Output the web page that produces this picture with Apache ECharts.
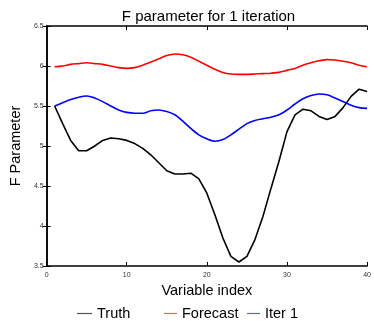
<!DOCTYPE html>
<html>
<head>
<meta charset="utf-8">
<script src="https://cdn.jsdelivr.net/npm/echarts@6/dist/echarts.min.js"></script>
<style>
  html, body { margin: 0; padding: 0; background: #fff; }
  #chart { width: 374px; height: 321px; }
</style>
</head>
<body>
<div id="chart"></div>
<script>
  // variable index 1..40
  var xIndex = [];
  for (var i = 1; i <= 40; i++) xIndex.push(i);

  var truth = [5.50, 5.28, 5.07, 4.94, 4.94, 5.00, 5.07, 5.10, 5.09, 5.07,
               5.03, 4.97, 4.89, 4.79, 4.69, 4.65, 4.65, 4.66, 4.59, 4.41,
               4.14, 3.85, 3.62, 3.55, 3.62, 3.83, 4.12, 4.47, 4.81, 5.18,
               5.39, 5.46, 5.44, 5.37, 5.33, 5.37, 5.48, 5.62, 5.71, 5.68];
  var forecast = [5.99, 6.00, 6.02, 6.03, 6.04, 6.03, 6.02, 6.00, 5.98, 5.97,
                  5.98, 6.01, 6.05, 6.09, 6.13, 6.15, 6.14, 6.11, 6.06, 6.01,
                  5.96, 5.92, 5.90, 5.895, 5.895, 5.90, 5.905, 5.91, 5.92, 5.945,
                  5.97, 6.01, 6.04, 6.065, 6.08, 6.075, 6.06, 6.04, 6.01, 5.99];
  var iter1 = [5.50, 5.54, 5.58, 5.61, 5.625, 5.60, 5.555, 5.50, 5.45, 5.42,
               5.41, 5.41, 5.44, 5.45, 5.43, 5.39, 5.31, 5.22, 5.14, 5.09,
               5.06, 5.08, 5.14, 5.21, 5.28, 5.32, 5.34, 5.36, 5.39, 5.45,
               5.525, 5.59, 5.63, 5.65, 5.64, 5.60, 5.555, 5.51, 5.48, 5.47];

  function pairs(ys) {
      return xIndex.map(function (x, k) { return [x, ys[k]]; });
  }

  var font = 'Liberation Sans';
  var tickText = { fontFamily: font, fontSize: 7, color: '#333' };

  function legendAt(name, left, width, color) {
      return {
          data: [{ name: name, itemStyle: { color: color } }],
          left: left, top: 306, padding: 0, icon: 'rect', itemWidth: width, itemHeight: 1.2,
          textStyle: { fontFamily: font, fontSize: 14.5, color: '#000' }
      };
  }

  var dom = document.getElementById('chart');
  var myChart = echarts.init(dom);
  var option = {
      animation: false,
      title: {
          text: 'F parameter for 1 iteration',
          left: 203.5,
          textAlign: 'center',
          top: 4,
          textStyle: { fontFamily: font, fontSize: 15, fontWeight: 'normal', color: '#000' }
      },
      legend: [
          legendAt('Truth', 77, 15, '#555'),
          legendAt('Forecast', 164, 13, '#ff5a5a'),
          legendAt('Iter 1', 247, 13, '#5a5aff')
      ],
      grid: { left: 38, right: 5, top: 26, bottom: 55 },
      xAxis: [
          {
              type: 'value', min: 0, max: 40, interval: 10,
              name: 'Variable index', nameLocation: 'middle', nameGap: 15,
              nameTextStyle: { fontFamily: font, fontSize: 14.5, color: '#000' },
              axisLine: { lineStyle: { color: '#000', width: 1.5 } },
              axisTick: { inside: true, length: 4, lineStyle: { color: '#000' } },
              axisLabel: Object.assign({ margin: 6 }, tickText),
              splitLine: { show: false }
          },
          {
              type: 'value', min: 0, max: 40, interval: 10, position: 'top',
              axisLine: { lineStyle: { color: '#000', width: 1.5 } },
              axisTick: { inside: true, length: 4, lineStyle: { color: '#000' } },
              axisLabel: { show: false },
              splitLine: { show: false }
          }
      ],
      yAxis: [
          {
              type: 'value', min: 3.5, max: 6.5, interval: 0.5,
              name: 'F Parameter', nameLocation: 'middle', nameGap: 13,
              nameTextStyle: { fontFamily: font, fontSize: 14.5, color: '#000' },
              axisLine: { show: true, lineStyle: { color: '#000', width: 1.5 } },
              axisTick: { show: true, inside: true, length: 4, lineStyle: { color: '#000' } },
              axisLabel: Object.assign({ margin: 3 }, tickText),
              splitLine: { show: false }
          },
          {
              type: 'value', min: 3.5, max: 6.5, interval: 0.5, position: 'right',
              axisLine: { show: true, lineStyle: { color: '#000', width: 1.5 } },
              axisTick: { show: true, inside: true, length: 4, lineStyle: { color: '#000' } },
              axisLabel: { show: false },
              splitLine: { show: false }
          }
      ],
      series: [
          {
              name: 'Truth', type: 'line', data: pairs(truth), symbol: 'none',
              lineStyle: { color: '#000', width: 1.6 }, itemStyle: { color: '#000' }
          },
          {
              name: 'Forecast', type: 'line', data: pairs(forecast), symbol: 'none', smooth: 0.3,
              lineStyle: { color: '#ff0000', width: 1.6 }, itemStyle: { color: '#ff0000' }
          },
          {
              name: 'Iter 1', type: 'line', data: pairs(iter1), symbol: 'none', smooth: 0.3,
              lineStyle: { color: '#0000ff', width: 1.6 }, itemStyle: { color: '#0000ff' }
          }
      ]
  };
  myChart.setOption(option, true);
</script>
</body>
</html>
